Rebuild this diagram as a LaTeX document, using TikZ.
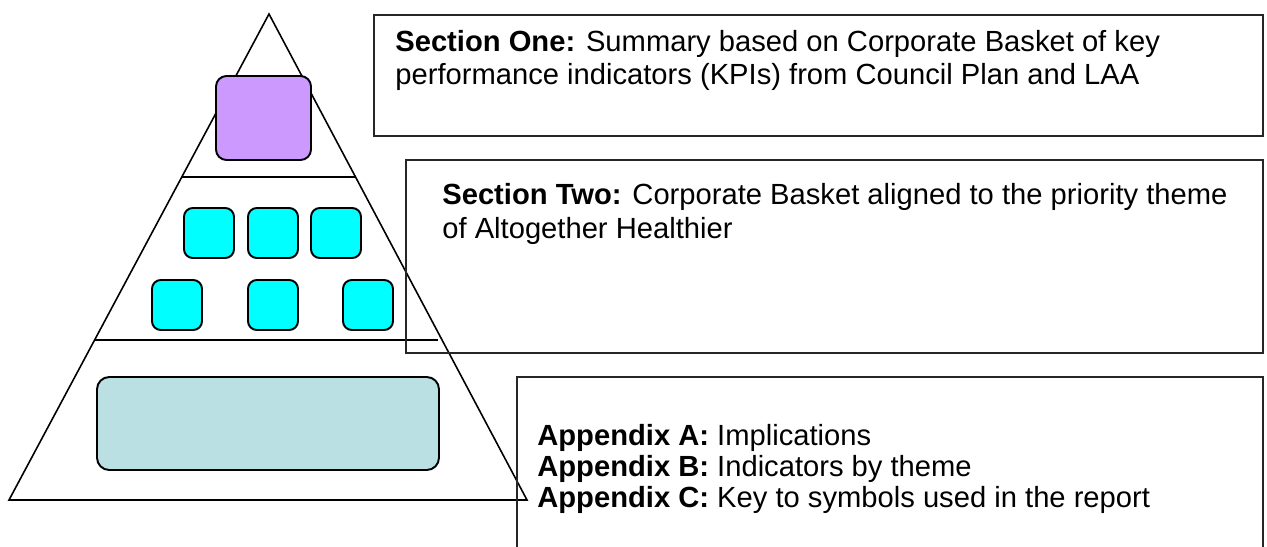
\documentclass[tikz,border=0pt]{standalone}
\usepackage{fontspec}
\setmainfont{Liberation Sans}
\usepackage{tikz}
\usetikzlibrary{fit}
\definecolor{lilac}{RGB}{204, 153, 255}
\definecolor{aqua}{RGB}{0, 255, 255}
\definecolor{paleteal}{RGB}{186, 224, 228}
\newcommand{\boxfont}{\fontsize{16.6}{19.3}\selectfont}
\newcommand{\appfont}{\fontsize{16.6}{17.6}\selectfont}
\tikzstyle{pyramid} = [
    line width=0.9pt,
    draw=black
]
\tikzstyle{tierbox} = [
    rectangle,
    rounded corners=6pt,
    inner sep=0pt,
    draw=black,
    line width=1.1pt
]
\tikzstyle{sectionbox} = [
    rectangle,
    inner sep=0pt,
    draw=black!85,
    line width=1.1pt
]
\tikzstyle{sectext} = [
    align=left,
    inner sep=0pt,
    font=\boxfont
]

\begin{document}
\begin{tikzpicture}[x=0.02cm, y=-0.02cm]
        \useasboundingbox (0,0) rectangle (1267,547);

        % Pyramid outline and tiers
        \coordinate (apex) at (269,14);
        \coordinate (baseleft) at (9,500);
        \coordinate (baseright) at (527,500);
        \coordinate (cutoneleft) at (182,177);
        \coordinate (cutoneright) at (355,177);
        \coordinate (cuttwoleft) at (95,340);
        \coordinate (cuttworight) at (438,340);
        \draw[pyramid] (apex) -- (baseleft) -- (baseright) -- cycle;
        \draw[pyramid] (cutoneleft) -- (cutoneright);
        \draw[pyramid] (cuttwoleft) -- (cuttworight);

        % Top tier
        \node[tierbox, fill=lilac, fit={(216,76) (311,160)}] (corporate) {};

        % Middle tier
        \foreach \x/\n in {184/a, 248/b, 311/c}
            \node[tierbox, rounded corners=5pt, fill=aqua, fit={(\x,208) (\x+50,258)}] (themeup\n) {};
        \foreach \x/\n in {152/a, 248/b, 343/c}
            \node[tierbox, rounded corners=5pt, fill=aqua, fit={(\x,280) (\x+50,330)}] (themedown\n) {};

        % Bottom tier
        \node[tierbox, rounded corners=7pt, fill=paleteal, fit={(97,377) (439,470)}] (appendices) {};

        % Section boxes
        \node[sectionbox, fit={(374,15) (1263,136)}] (secone) {};
        \node[sectionbox, fit={(406,160) (1263,353)}] (sectwo) {};
        \node[sectionbox, fit={(517,377) (1263,600)}] (secapp) {};

        % Section texts
        \node[sectext, anchor=base west] (seconetext) at (395,85)
            {\textbf{Section One:} Summary based on Corporate Basket of key\\performance indicators (KPIs) from Council Plan and LAA};
        \node[sectext, anchor=base west] (sectwotext) at (442,238)
            {\textbf{Section Two:} Corporate Basket aligned to the priority theme\\of Altogether Healthier};
        \node[sectext, font=\appfont, anchor=base west] (secapptext) at (537,507)
            {\textbf{Appendix A:} Implications\\\textbf{Appendix B:} Indicators by theme\\\textbf{Appendix C:} Key to symbols used in the report};
    \end{tikzpicture}
\end{document}
